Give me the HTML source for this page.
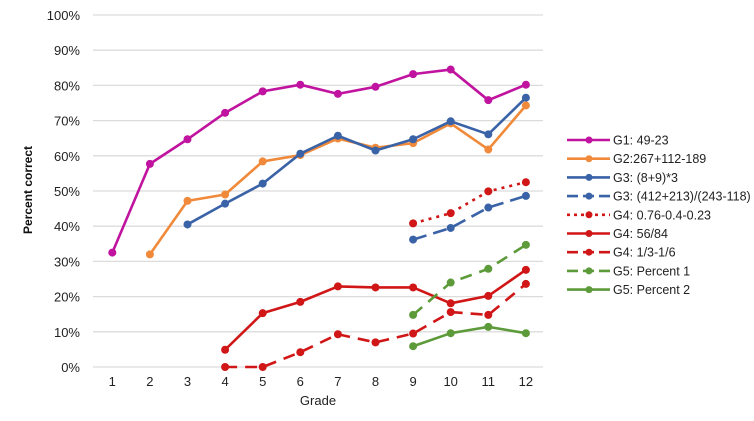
<!DOCTYPE html>
<html><head><meta charset="utf-8"><style>
body{margin:0;background:#fff;width:754px;height:416px;overflow:hidden;font-family:"Liberation Sans",sans-serif}
</style></head><body>
<svg id="chart" width="754" height="416" xmlns="http://www.w3.org/2000/svg"></svg>
<script>
const grades=[1,2,3,4,5,6,7,8,9,10,11,12];
const yTicks=[0,10,20,30,40,50,60,70,80,90,100];
const names=["G1: 49-23","G2:267+112-189","G3: (8+9)*3","G3: (412+213)/(243-118)","G4: 0.76-0.4-0.23","G4: 56/84","G4: 1/3-1/6","G5: Percent 1","G5: Percent 2"];
const colors=["#c0139f","#f08a3a","#3a62a6","#3a62a6","#d01616","#d01616","#d01616","#5c9a3a","#5c9a3a"];
const dashes=["","","","14,7","3,5","","12,8","12,8",""];
const s1=[32.5,57.7,64.7,72.2,78.3,80.2,77.6,79.6,83.2,84.5,75.8,80.2];
const s2=[null,32,47.2,49,58.4,60.2,64.9,62.3,63.6,69.2,61.8,74.3];
const s3=[null,null,40.5,46.4,52.1,60.6,65.7,61.5,64.7,69.8,66.1,76.5];
const s4=[null,null,null,null,null,null,null,null,36.2,39.5,45.3,48.6];
const s5=[null,null,null,null,null,null,null,null,40.8,43.7,49.9,52.5];
const s6=[null,null,null,4.9,15.3,18.5,22.9,22.6,22.6,18.1,20.2,27.6];
const s7=[null,null,null,0,0,4.2,9.3,7.0,9.5,15.6,14.8,23.6];
const s8=[null,null,null,null,null,null,null,null,14.8,24.0,27.9,34.7];
const s9=[null,null,null,null,null,null,null,null,5.9,9.6,11.4,9.6];
const series=[s1,s2,s3,s4,s5,s6,s7,s8,s9];
const NS="http://www.w3.org/2000/svg",svg=document.getElementById('chart');
const X=g=>112.3+(g-1)*37.6, Y=v=>367-v*3.52;
function mk(t,a,p){const e=document.createElementNS(NS,t);for(const k in a)e.setAttribute(k,a[k]);(p||svg).appendChild(e);return e;}
yTicks.forEach(v=>{
 const l=mk('line',{x1:93,x2:543,y1:Y(v),y2:Y(v),stroke:'#dcdcdc','stroke-width':1.3});
 
 
 const t=mk('text',{x:80,y:Y(v)+5,'text-anchor':'end','font-size':13,fill:'#222'});t.textContent=v+'%';
 
 
});
grades.forEach(g=>{const t=mk('text',{x:X(g),y:386,'text-anchor':'middle','font-size':13,fill:'#222'});t.textContent=g;
 
 });
let t=mk('text',{x:318,y:405,'text-anchor':'middle','font-size':13,fill:'#222'});t.textContent='Grade';


t=mk('text',{x:0,y:0,'text-anchor':'middle','font-size':12,'font-weight':'bold',fill:'#111',transform:'translate(32,190) rotate(-90)'});t.textContent='Percent correct';


series.forEach((s,i)=>{
 const g=mk('g',{});
 
 
 const pts=[];s.forEach((v,j)=>{if(v!==null)pts.push([X(grades[j]),Y(v)]);});
 mk('polyline',{points:pts.map(p=>p.join(',')).join(' '),fill:'none',stroke:colors[i],'stroke-width':2.6,'stroke-dasharray':dashes[i],'stroke-linejoin':'round'},g);
 pts.forEach(p=>mk('circle',{cx:p[0],cy:p[1],r:4,fill:colors[i]},g));
 const ly=140+i*18.7;
 const lg=mk('g',{});
 
 
 mk('line',{x1:567,x2:610,y1:ly,y2:ly,stroke:colors[i],'stroke-width':2.6,'stroke-dasharray':dashes[i]?(dashes[i]==='3,5'?'3,4':'11,5'):''},lg);
 mk('circle',{cx:589,cy:ly,r:3.5,fill:colors[i]},lg);
 const tt=mk('text',{x:613,y:ly+4.5,'font-size':12.5,fill:'#222'},lg);tt.textContent=names[i];
});
</script>
</body></html>
